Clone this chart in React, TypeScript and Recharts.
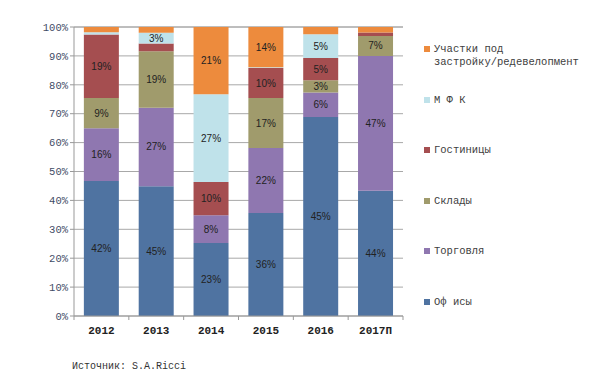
import { BarChart, Bar, XAxis, YAxis, CartesianGrid, LabelList } from "recharts"

// categories
const years = ["2012", "2013", "2014", "2015", "2016", "2017П"]

// bar heights, share of the column (%)
const offices = [46.7, 44.9, 25.3, 35.6, 68.9, 43.3]
const retail = [18.3, 27.2, 9.6, 22.5, 8.4, 46.7]
const warehouses = [10.4, 19.5, 0, 17.3, 4.3, 6.9]
const hotels = [22.0, 2.7, 11.5, 10.4, 7.7, 1.2]
const mixedUse = [0.8, 3.7, 30.3, 0.3, 8.2, 0]
const land = [1.8, 2.0, 23.3, 13.9, 2.5, 1.9]

// printed labels on the bars
const officesLabels = [42, 45, 23, 36, 45, 44]
const retailLabels = [16, 27, 8, 22, 6, 47]
const warehousesLabels = [9, 19, null, 17, 3, 7]
const hotelsLabels = [19, null, 10, 10, 5, null]
const mixedUseLabels = [null, 3, 27, null, 5, null]
const landLabels = [null, null, 21, 14, null, null]

const yTicks = [0, 10, 20, 30, 40, 50, 60, 70, 80, 90, 100]

const series = [
  { key: "offices", name: "Оф исы", color: "#4f73a1", values: offices, labels: officesLabels },
  { key: "retail", name: "Торговля", color: "#8f77b0", values: retail, labels: retailLabels },
  { key: "warehouses", name: "Склады", color: "#a09b6c", values: warehouses, labels: warehousesLabels },
  { key: "hotels", name: "Гостиницы", color: "#a54e50", values: hotels, labels: hotelsLabels },
  { key: "mixedUse", name: "М Ф К", color: "#bfe2ea", values: mixedUse, labels: mixedUseLabels },
  { key: "land", name: "Участки под\nзастройку/редевелопмент", color: "#ed8b3d", values: land, labels: landLabels },
]

const data = years.map((year, i) => {
  const row: Record<string, any> = { year }
  series.forEach((s) => {
    row[s.key] = s.values[i]
    row[s.key + "Label"] = s.labels[i]
  })
  return row
})

const MONO = "'Liberation Mono', 'DejaVu Sans Mono', monospace"
const BAND = 329 / 6

const XTick = (props: any) => {
  const { x, y, payload, index } = props
  return (
    <g>
      <line x1={x - BAND / 2} y1={y - 8} x2={x - BAND / 2} y2={y - 4} stroke="#999" />
      {index === years.length - 1 && (
        <line x1={x + BAND / 2} y1={y - 8} x2={x + BAND / 2} y2={y - 4} stroke="#999" />
      )}
      <text x={x} y={y + 10} textAnchor="middle" fontFamily={MONO} fontSize={11} fontWeight="bold" fill="#222">
        {payload.value}
      </text>
    </g>
  )
}

function ChartLegend() {
  return (
    <div style={{ position: "absolute", left: 424, top: 43, width: 176, height: 290 }}>
      {[...series].reverse().map((s, i) => (
        <div
          key={s.key}
          style={{
            position: "absolute",
            top: i * 50.6,
            left: 0,
            display: "flex",
            alignItems: "flex-start",
            fontFamily: MONO,
            fontSize: 10.5,
            lineHeight: "13px",
            color: "#404040",
            whiteSpace: "pre",
          }}
        >
          <span style={{ width: 6, height: 6, background: s.color, marginTop: 3, marginRight: 4, flexShrink: 0 }} />
          <span>{s.name}</span>
        </div>
      ))}
    </div>
  )
}

export default function App() {
  return (
    <div style={{ position: "absolute", left: 0, top: 0, width: 600, height: 384, background: "#fff" }}>
      <BarChart
        width={600}
        height={384}
        data={data}
        margin={{ top: 27, right: 197, left: 20, bottom: 38 }}
        barCategoryGap="18%"
      >
        <CartesianGrid vertical={false} stroke="#a8a8a8" />
        <XAxis dataKey="year" height={30} axisLine={{ stroke: "#999" }} tickLine={false} tick={<XTick />} interval={0} />
        <YAxis
          width={54}
          domain={[0, 100]}
          ticks={yTicks}
          interval={0}
          tickFormatter={(v) => `${v}%`}
          axisLine={{ stroke: "#999" }}
          tickLine={{ stroke: "#999" }}
          tickSize={4}
          tick={{ fontFamily: MONO, fontSize: 10.5, fill: "#3f4c66" }}
        />
        {series.map((s) => (
          <Bar key={s.key} dataKey={s.key} name={s.name} stackId="a" fill={s.color} isAnimationActive={false}>
            <LabelList
              dataKey={s.key + "Label"}
              position="center"
              formatter={(v: any) => (v == null ? "" : `${v}%`)}
              style={{ fontFamily: "'Liberation Sans', Arial, sans-serif", fontSize: 10, fill: "#222" }}
            />
          </Bar>
        ))}
      </BarChart>
      <ChartLegend />
      <div
        style={{
          position: "absolute",
          left: 72,
          top: 361,
          fontFamily: MONO,
          fontSize: 10,
          color: "#333",
        }}
      >
        Источник: S.A.Ricci
      </div>
    </div>
  )
}
